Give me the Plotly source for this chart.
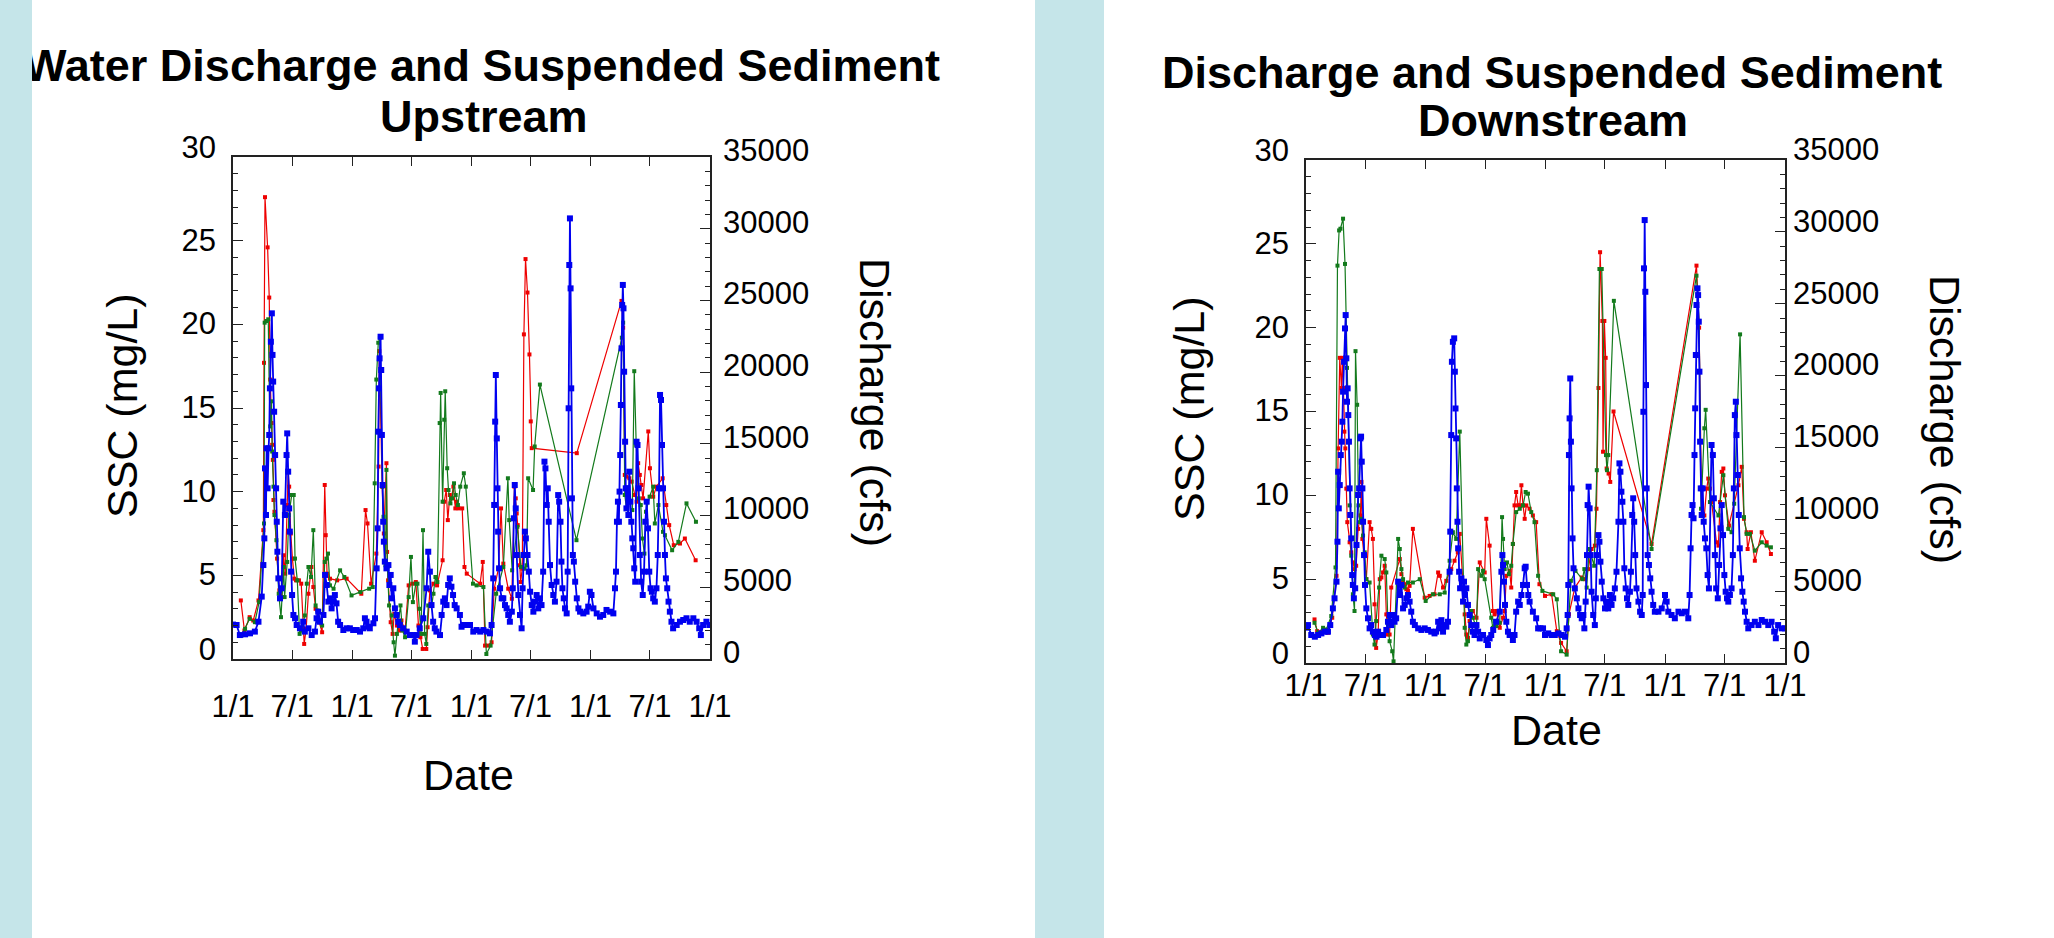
import pandas as pd
import plotly.graph_objects as go

START = pd.Timestamp("2001-01-01")
END = pd.Timestamp("2005-01-01")

# ---------------- Upstream ----------------
up_q_days = [0, 11, 21, 37, 52, 67, 78, 88, 93, 96, 98, 101, 103, 106, 109, 111, 113, 116, 119, 121, 123, 126, 129, 132, 134, 136, 139, 144, 149, 154, 159, 164, 166, 169, 172, 174, 178, 181, 185, 190, 195, 205, 215, 220, 231, 241, 251, 256, 261, 266, 277, 282, 287, 292, 297, 302, 307, 312, 317, 322, 328, 338, 348, 358, 368, 379, 389, 399, 404, 409, 414, 419, 430, 435, 440, 443, 445, 447, 449, 452, 454, 456, 458, 460, 462, 465, 470, 476, 479, 483, 486, 491, 496, 501, 506, 511, 521, 532, 542, 552, 557, 562, 572, 583, 593, 598, 603, 608, 613, 618, 623, 634, 639, 644, 649, 654, 659, 664, 669, 674, 679, 685, 695, 700, 705, 715, 726, 736, 746, 757, 767, 777, 787, 792, 797, 800, 803, 805, 808, 810, 812, 815, 818, 823, 828, 833, 838, 843, 848, 854, 857, 860, 863, 866, 869, 874, 879, 884, 887, 890, 894, 897, 902, 906, 910, 915, 920, 925, 930, 935, 940, 945, 950, 954, 957, 961, 964, 967, 971, 976, 981, 986, 991, 996, 999, 1003, 1006, 1009, 1013, 1017, 1022, 1025, 1028, 1030, 1032, 1034, 1036, 1038, 1041, 1044, 1048, 1053, 1058, 1063, 1073, 1083, 1088, 1093, 1098, 1104, 1114, 1124, 1134, 1144, 1155, 1165, 1170, 1173, 1176, 1179, 1182, 1184, 1186, 1188, 1190, 1192, 1194, 1196, 1198, 1201, 1203, 1205, 1208, 1211, 1214, 1217, 1220, 1223, 1226, 1229, 1232, 1236, 1239, 1242, 1246, 1250, 1255, 1259, 1263, 1267, 1271, 1275, 1279, 1283, 1287, 1292, 1297, 1301, 1305, 1308, 1311, 1314, 1317, 1320, 1323, 1326, 1330, 1334, 1338, 1343, 1348, 1359, 1369, 1379, 1389, 1399, 1410, 1420, 1428, 1433, 1440, 1450, 1459]
up_q_cfs = [2400, 2370, 1670, 1720, 1790, 1910, 2600, 4350, 6550, 8410, 13290, 10040, 14690, 11900, 14690, 15620, 18870, 22120, 24100, 21200, 19340, 17240, 14220, 11900, 9570, 7480, 5620, 4230, 4930, 10970, 10040, 14220, 15730, 13060, 10500, 8880, 6090, 4460, 3070, 2840, 2370, 2140, 2600, 1910, 2140, 1670, 1910, 2840, 3300, 2600, 3070, 5860, 5160, 4000, 4230, 3530, 4000, 4460, 3880, 2600, 2370, 2020, 2140, 2140, 2020, 2020, 1910, 2140, 2840, 2600, 2250, 2140, 2490, 2840, 6320, 9110, 15850, 18870, 20960, 22470, 20150, 15620, 12130, 9570, 8180, 6790, 6320, 6550, 5160, 5860, 4230, 4930, 3530, 3070, 2600, 2370, 2140, 1910, 1670, 1670, 1210, 1670, 2140, 2840, 4930, 7480, 6090, 3760, 2600, 2140, 1910, 1670, 3070, 4000, 4230, 3760, 5160, 5620, 5040, 4460, 3760, 3530, 3070, 2250, 2370, 2370, 2370, 1910, 2020, 1910, 2020, 1910, 1790, 2370, 5620, 10740, 16550, 19800, 15380, 11900, 8880, 6320, 4930, 4230, 4230, 3760, 3530, 3070, 2600, 3300, 4930, 9810, 12130, 10500, 7250, 4460, 3070, 2140, 4930, 7250, 8880, 8410, 7250, 6090, 4690, 3760, 3300, 4000, 4460, 3530, 4230, 3760, 6090, 13760, 13290, 10740, 11900, 9570, 6550, 5160, 4460, 4000, 5390, 11430, 10970, 9570, 6790, 4930, 4230, 3530, 3180, 6090, 17480, 27470, 30720, 25840, 18870, 11200, 7250, 6790, 5390, 4230, 3530, 3300, 3180, 3300, 3650, 4690, 4460, 3530, 3180, 2950, 3070, 3420, 3300, 3180, 4930, 6090, 9570, 10970, 9570, 11670, 14220, 17710, 21660, 24680, 26080, 24450, 20030, 15150, 11900, 10500, 11900, 10040, 13060, 10970, 9570, 8410, 7720, 6320, 5390, 15150, 14920, 11900, 7250, 5390, 4460, 6090, 9570, 10970, 9110, 6090, 4930, 4690, 4230, 4000, 4930, 7250, 11900, 18410, 18060, 14920, 11900, 9570, 7250, 5620, 4930, 4000, 3300, 2600, 2140, 2370, 2600, 2720, 2840, 2600, 2840, 2600, 2140, 1670, 2370, 2600, 2370]

up_red_days = [24, 35, 51, 62, 78, 93, 95, 98, 106, 111, 114, 118, 120, 122, 124, 127, 135, 142, 149, 155, 160, 166, 169, 172, 177, 182, 188, 193, 202, 209, 218, 224, 231, 240, 246, 253, 264, 273, 281, 284, 288, 297, 319, 348, 393, 406, 412, 423, 439, 446, 448, 457, 462, 470, 472, 475, 483, 489, 494, 502, 510, 516, 527, 538, 549, 560, 568, 574, 581, 592, 596, 603, 614, 625, 642, 647, 653, 658, 664, 669, 675, 681, 685, 691, 702, 709, 716, 757, 765, 772, 780, 792, 800, 813, 821, 828, 843, 854, 862, 866, 869, 872, 877, 881, 886, 891, 896, 902, 908, 912, 915, 1053, 1190, 1195, 1200, 1205, 1214, 1221, 1231, 1236, 1241, 1246, 1251, 1256, 1272, 1277, 1287, 1297, 1316, 1327, 1336, 1350, 1369, 1384, 1417]
up_red_ssc = [3.5, 1.7, 2.5, 2.3, 3.5, 7.7, 17.7, 27.6, 24.6, 21.6, 16.7, 14.1, 12.8, 11.9, 9.5, 8.8, 6.0, 4.1, 3.7, 6.2, 5.1, 9.2, 11.2, 10.3, 7.5, 6.0, 4.8, 4.7, 4.7, 4.5, 0.9, 1.8, 3.9, 5.5, 4.3, 3.0, 2.2, 1.6, 10.4, 7.4, 5.1, 4.8, 4.7, 4.8, 3.9, 8.9, 8.1, 4.5, 6.3, 11.5, 18.4, 10.3, 7.5, 11.7, 6.4, 4.7, 2.2, 1.5, 2.7, 2.0, 1.7, 2.3, 1.7, 4.4, 4.5, 4.6, 2.0, 1.3, 0.6, 0.6, 1.9, 4.1, 4.5, 4.4, 5.9, 9.4, 10.1, 8.3, 9.8, 9.6, 10.3, 9.0, 9.4, 9.0, 9.0, 5.5, 5.1, 4.5, 5.8, 0.8, 0.8, 1.0, 4.2, 5.4, 9.0, 5.7, 4.2, 3.6, 10.3, 9.6, 8.7, 8.0, 5.6, 4.6, 5.4, 19.4, 23.9, 21.9, 18.2, 14.2, 12.6, 12.3, 21.4, 19.8, 11.0, 10.9, 10.8, 10.6, 9.8, 9.4, 11.7, 11.0, 10.4, 9.6, 13.6, 11.4, 9.7, 10.3, 10.8, 9.2, 8.0, 6.8, 6.9, 7.2, 5.9]

up_green_days = [26, 37, 51, 67, 80, 95, 97, 102, 108, 111, 114, 118, 120, 124, 127, 133, 140, 147, 155, 158, 166, 171, 180, 186, 190, 197, 204, 210, 220, 226, 231, 239, 246, 253, 259, 273, 281, 286, 291, 297, 308, 328, 341, 363, 390, 417, 428, 434, 439, 445, 450, 458, 461, 467, 470, 473, 478, 486, 492, 496, 502, 507, 513, 519, 527, 538, 545, 551, 560, 565, 571, 576, 582, 587, 592, 598, 609, 614, 620, 626, 633, 636, 642, 647, 650, 656, 660, 666, 671, 677, 682, 689, 696, 707, 713, 735, 746, 767, 776, 789, 806, 828, 842, 846, 855, 871, 882, 893, 899, 904, 919, 924, 940, 1052, 1191, 1195, 1200, 1205, 1214, 1223, 1229, 1235, 1243, 1249, 1254, 1260, 1265, 1276, 1287, 1292, 1303, 1317, 1323, 1345, 1364, 1389, 1418]
up_green_ssc = [1.4, 1.8, 2.4, 2.2, 3.4, 8.1, 20.1, 20.2, 20.3, 16.2, 13.9, 15.4, 12.4, 10.3, 8.6, 7.1, 3.9, 2.5, 5.5, 3.7, 5.8, 8.6, 9.8, 9.8, 6.0, 4.7, 1.5, 1.7, 2.6, 4.5, 5.5, 4.9, 7.7, 3.2, 2.9, 2.0, 5.8, 6.0, 6.3, 4.4, 4.2, 5.3, 4.9, 3.8, 4.0, 4.2, 4.3, 10.5, 16.7, 18.9, 19.2, 10.3, 8.5, 5.6, 11.3, 5.5, 3.2, 2.6, 1.0, 0.2, 1.5, 2.2, 3.2, 1.7, 1.3, 3.7, 6.1, 3.4, 4.5, 4.5, 3.0, 1.5, 7.7, 1.5, 0.9, 3.2, 3.2, 3.9, 4.9, 4.6, 14.1, 15.9, 9.4, 14.3, 16.0, 11.4, 10.1, 9.3, 9.6, 10.5, 9.8, 9.2, 10.3, 11.1, 10.3, 4.5, 4.4, 4.3, 0.3, 0.8, 3.9, 5.5, 10.8, 8.3, 5.3, 7.9, 5.5, 5.4, 5.6, 10.8, 10.1, 12.7, 16.4, 7.1, 19.2, 20.1, 9.8, 9.0, 8.6, 8.9, 17.2, 12.8, 9.6, 9.2, 7.2, 6.3, 8.8, 9.7, 10.3, 8.1, 9.2, 7.6, 7.4, 6.5, 7.0, 9.3, 8.2]

# ---------------- Downstream ----------------
dn_q_days = [0, 6, 16, 27, 37, 47, 57, 67, 74, 82, 87, 93, 96, 98, 100, 103, 106, 109, 111, 113, 116, 119, 121, 123, 125, 127, 129, 131, 133, 135, 138, 141, 143, 146, 150, 154, 159, 162, 166, 168, 170, 172, 174, 177, 180, 184, 189, 194, 199, 204, 210, 215, 220, 225, 235, 245, 250, 255, 260, 265, 270, 275, 281, 286, 291, 296, 301, 306, 311, 316, 321, 326, 332, 342, 352, 362, 372, 382, 392, 397, 403, 408, 413, 418, 423, 428, 433, 438, 440, 443, 445, 448, 452, 454, 456, 458, 460, 462, 464, 467, 470, 474, 479, 482, 485, 489, 494, 499, 504, 509, 514, 520, 525, 530, 540, 550, 555, 560, 565, 571, 580, 591, 596, 599, 601, 604, 607, 611, 616, 621, 631, 636, 641, 647, 652, 657, 662, 667, 670, 674, 678, 682, 692, 702, 708, 715, 723, 729, 739, 749, 759, 770, 780, 790, 795, 798, 800, 802, 804, 806, 808, 810, 813, 816, 820, 826, 831, 836, 841, 846, 849, 853, 857, 859, 862, 865, 868, 871, 876, 881, 884, 887, 892, 895, 898, 902, 907, 912, 917, 922, 927, 932, 937, 942, 947, 953, 956, 959, 962, 965, 968, 971, 975, 979, 983, 988, 991, 995, 998, 1001, 1004, 1008, 1014, 1019, 1024, 1027, 1029, 1031, 1033, 1035, 1037, 1039, 1042, 1046, 1050, 1054, 1059, 1064, 1075, 1085, 1095, 1100, 1105, 1115, 1125, 1136, 1146, 1156, 1166, 1170, 1173, 1176, 1179, 1182, 1185, 1187, 1189, 1191, 1194, 1196, 1198, 1200, 1202, 1204, 1207, 1210, 1213, 1217, 1221, 1225, 1229, 1237, 1241, 1244, 1247, 1251, 1256, 1260, 1264, 1268, 1272, 1276, 1280, 1284, 1288, 1293, 1298, 1302, 1305, 1308, 1311, 1313, 1317, 1320, 1323, 1327, 1331, 1335, 1339, 1344, 1349, 1359, 1369, 1380, 1390, 1400, 1410, 1420, 1428, 1433, 1440, 1451, 1461]
dn_q_cfs = [2460, 2640, 1950, 1830, 1950, 2060, 2180, 2180, 2640, 3800, 4500, 5660, 8440, 13310, 10760, 12380, 14470, 15400, 16790, 18880, 20960, 23280, 24210, 21200, 18180, 19110, 17250, 15400, 12150, 10300, 8670, 6120, 5430, 4500, 5200, 8210, 11690, 12150, 15630, 15750, 14010, 12150, 9830, 7510, 5430, 3800, 3110, 2410, 2640, 2180, 1950, 1830, 2180, 1950, 1950, 2300, 2870, 3340, 2640, 3340, 2870, 3110, 5660, 4730, 5430, 3800, 4040, 4500, 4730, 4270, 3570, 2870, 2640, 2410, 2300, 2410, 2300, 2180, 2060, 2180, 2870, 2410, 2980, 2180, 2640, 2530, 2870, 6350, 9140, 15860, 20960, 22350, 22590, 20270, 17710, 15630, 12150, 9830, 7980, 6350, 5200, 5890, 4270, 5660, 4730, 5200, 4040, 3340, 2640, 2180, 1950, 2640, 2180, 1710, 1950, 1600, 1250, 1710, 1950, 2300, 2870, 3570, 6350, 7510, 6820, 5660, 4040, 2870, 2180, 1950, 1600, 1950, 3570, 4270, 4040, 4730, 5430, 6590, 6700, 5430, 4730, 4270, 3570, 3110, 2410, 2410, 2410, 1950, 2060, 1950, 1950, 2060, 1950, 1830, 2410, 3340, 5430, 14470, 17020, 19800, 15400, 12150, 8670, 6590, 5190, 4500, 3800, 3340, 3110, 3340, 2410, 4270, 7510, 10990, 12270, 10760, 7510, 4960, 3340, 2640, 4500, 7510, 8900, 8440, 7050, 5660, 4500, 3800, 4270, 3800, 4730, 4040, 4500, 5190, 6350, 9830, 13890, 13310, 11920, 11220, 9830, 6590, 5190, 4500, 4040, 4960, 6350, 10300, 11460, 9830, 7510, 5190, 4270, 3570, 3340, 4730, 17480, 27460, 30820, 25830, 19340, 12150, 7510, 6820, 5890, 4960, 4040, 3570, 3570, 3800, 4730, 4270, 3570, 3340, 3110, 3570, 3460, 3570, 3110, 4730, 7980, 10300, 10990, 10070, 14470, 17720, 21430, 24910, 26070, 25600, 23750, 20270, 15400, 12150, 10300, 12150, 9830, 8670, 7980, 6120, 5190, 15170, 14470, 11460, 7510, 5190, 4500, 6820, 9370, 10990, 8900, 6120, 4960, 4500, 4270, 4730, 5190, 7510, 12150, 17250, 18180, 15860, 13080, 10300, 7980, 5890, 4960, 4270, 3570, 2870, 2410, 2640, 2870, 2640, 2990, 2870, 2640, 2870, 2180, 1720, 2640, 2410, 2410]

dn_red_days = [26, 34, 52, 67, 80, 93, 98, 103, 108, 111, 114, 117, 120, 123, 126, 133, 138, 143, 148, 153, 159, 166, 169, 172, 177, 184, 194, 199, 204, 209, 214, 220, 225, 230, 235, 240, 245, 250, 255, 260, 286, 291, 296, 301, 306, 311, 316, 326, 362, 377, 392, 403, 408, 418, 428, 443, 453, 463, 469, 484, 489, 494, 499, 509, 520, 530, 545, 550, 560, 570, 575, 581, 591, 601, 606, 611, 621, 626, 631, 636, 641, 647, 652, 657, 662, 667, 672, 682, 692, 702, 712, 729, 749, 765, 778, 795, 802, 820, 841, 851, 861, 871, 881, 886, 892, 897, 904, 906, 910, 914, 917, 923, 928, 938, 1054, 1191, 1199, 1207, 1215, 1222, 1227, 1232, 1237, 1252, 1258, 1263, 1268, 1273, 1278, 1290, 1319, 1329, 1336, 1344, 1347, 1357, 1369, 1390, 1405, 1418]
dn_red_ssc = [2.6, 1.9, 1.9, 1.8, 2.7, 5.2, 12.8, 18.2, 16.4, 18.2, 16.4, 13.8, 12.8, 10.4, 8.4, 7.2, 6.6, 6.0, 5.6, 5.8, 8.0, 8.8, 10.8, 7.4, 6.4, 5.0, 8.4, 8.0, 7.4, 3.5, 0.9, 1.7, 5.0, 5.1, 5.4, 5.8, 2.9, 1.7, 1.7, 4.5, 6.2, 5.3, 4.8, 4.7, 4.4, 4.3, 4.6, 8.0, 3.9, 4.0, 4.1, 5.4, 5.2, 4.5, 4.9, 5.6, 6.1, 6.6, 7.7, 2.9, 1.7, 1.5, 2.5, 3.1, 2.7, 6.0, 5.4, 8.6, 7.0, 3.1, 2.9, 3.1, 2.1, 2.7, 3.1, 5.2, 5.5, 4.5, 7.1, 9.4, 10.2, 9.4, 9.4, 10.6, 9.4, 8.6, 9.4, 9.2, 8.8, 8.4, 4.7, 4.0, 4.1, 1.9, 1.2, 0.7, 2.9, 4.5, 5.1, 5.0, 5.6, 6.8, 7.0, 9.2, 16.4, 24.5, 20.4, 12.6, 20.4, 18.2, 11.6, 11.3, 10.8, 15.0, 7.1, 23.7, 20.0, 8.9, 8.8, 10.4, 11.0, 10.4, 9.6, 7.2, 7.0, 9.6, 11.4, 11.6, 10.0, 8.2, 10.6, 11.7, 8.6, 7.8, 6.8, 7.8, 6.1, 7.8, 7.2, 6.5]

dn_green_days = [26, 37, 52, 62, 77, 90, 96, 101, 105, 113, 119, 125, 133, 138, 143, 148, 151, 156, 160, 164, 169, 174, 179, 184, 194, 204, 209, 214, 223, 230, 240, 245, 250, 255, 263, 267, 281, 286, 291, 296, 301, 311, 326, 347, 365, 387, 408, 423, 438, 448, 458, 469, 484, 489, 494, 504, 509, 520, 525, 535, 540, 545, 565, 570, 575, 581, 591, 598, 601, 606, 613, 619, 626, 631, 641, 652, 662, 670, 677, 687, 697, 708, 721, 754, 765, 778, 795, 808, 822, 843, 849, 856, 864, 879, 887, 895, 902, 915, 918, 922, 939, 1054, 1191, 1199, 1205, 1215, 1219, 1232, 1258, 1273, 1288, 1298, 1306, 1324, 1336, 1344, 1354, 1369, 1390, 1405, 1418]
dn_green_ssc = [2.4, 1.8, 2.1, 2.0, 2.8, 5.7, 23.7, 25.8, 25.9, 26.5, 23.8, 17.6, 9.4, 6.4, 4.1, 3.1, 18.6, 15.4, 9.4, 8.4, 8.6, 7.6, 6.6, 5.0, 4.8, 1.7, 1.1, 2.5, 4.5, 6.4, 6.2, 5.4, 2.3, 1.3, 0.7, 0.1, 7.4, 6.8, 5.6, 5.0, 4.5, 4.8, 4.8, 5.0, 3.7, 4.1, 4.1, 4.2, 6.1, 7.8, 7.4, 13.8, 2.1, 1.1, 1.3, 3.1, 2.7, 2.1, 5.6, 5.2, 5.5, 5.0, 2.7, 2.1, 2.5, 2.2, 2.4, 8.7, 7.4, 5.6, 6.0, 5.3, 5.8, 7.1, 9.0, 9.2, 9.4, 10.2, 10.1, 9.0, 8.4, 5.2, 4.3, 4.1, 3.8, 0.7, 0.5, 4.9, 5.5, 5.0, 5.6, 4.5, 6.8, 5.8, 11.5, 23.5, 23.5, 12.4, 11.5, 12.4, 21.6, 6.8, 23.1, 20.4, 9.2, 14.0, 15.1, 9.6, 8.8, 11.2, 8.0, 7.8, 9.5, 19.6, 8.7, 7.7, 7.7, 6.7, 7.2, 7.0, 6.9]

# tick labels
ssc_mid_ticks = [5, 10, 15, 20, 25]
ssc_end_ticks = [0, 30]
q_ticks = [0, 5000, 10000, 15000, 20000, 25000, 30000, 35000]

# ---------------- styling ----------------
W, H = 2054, 938
FONT = "Liberation Sans, Arial, sans-serif"
BLUE = "#0000f0"
RED = "#ee0000"
GREEN = "#137a1c"
AXC = "#222222"
STRIP = "#c5e5e9"


def to_dates(days):
    return START + pd.to_timedelta(days, unit="D")


def px(x):
    return x / W


def py(y):
    return 1 - y / H


fig = go.Figure()

panels = [
    dict(q=(up_q_days, up_q_cfs), r=(up_red_days, up_red_ssc), g=(up_green_days, up_green_ssc),
         x="x", y="y", y2="y2", labs=("y5", "y6", "y7")),
    dict(q=(dn_q_days, dn_q_cfs), r=(dn_red_days, dn_red_ssc), g=(dn_green_days, dn_green_ssc),
         x="x2", y="y3", y2="y4", labs=("y8", "y9", "y10")),
]

for p in panels:
    fig.add_trace(go.Scatter(x=to_dates(p["r"][0]), y=p["r"][1], xaxis=p["x"], yaxis=p["y"],
                             mode="lines+markers", line=dict(color=RED, width=1.2),
                             marker=dict(symbol="square", size=4, color=RED), showlegend=False))
    fig.add_trace(go.Scatter(x=to_dates(p["g"][0]), y=p["g"][1], xaxis=p["x"], yaxis=p["y"],
                             mode="lines+markers", line=dict(color=GREEN, width=1.2),
                             marker=dict(symbol="square", size=4, color=GREEN), showlegend=False))
    fig.add_trace(go.Scatter(x=to_dates(p["q"][0]), y=p["q"][1], xaxis=p["x"], yaxis=p["y2"],
                             mode="lines+markers", line=dict(color=BLUE, width=1.8),
                             marker=dict(symbol="square", size=6, color=BLUE), showlegend=False))
    # empty carriers so the label-only axes are drawn
    for ya in p["labs"]:
        fig.add_trace(go.Scatter(x=[START], y=[None], xaxis=p["x"], yaxis=ya, mode="markers",
                                 marker=dict(opacity=0), showlegend=False, hoverinfo="skip"))

tickfont = dict(family=FONT, size=31, color="black")


def xaxis(dom, anchor, standoff):
    return dict(domain=dom, anchor=anchor, type="date", range=[START, END],
                tick0=START, dtick="M6", tickformat="%-m/%-d", automargin=False,
                showline=True, linecolor=AXC, linewidth=1.5, mirror="ticks",
                ticks="inside", ticklen=9, tickwidth=1.3, tickcolor=AXC,
                showgrid=False, zeroline=False, tickfont=tickfont,
                ticklabelstandoff=standoff, fixedrange=True)


def yleft(dom, anchor):
    return dict(domain=dom, anchor=anchor, range=[0, 30], dtick=5, automargin=False,
                showline=True, linecolor=AXC, linewidth=1.5, showticklabels=False,
                ticks="inside", ticklen=10, tickwidth=1.3, tickcolor=AXC,
                minor=dict(dtick=1, ticks="inside", ticklen=5, tickwidth=1, tickcolor=AXC),
                showgrid=False, zeroline=False, fixedrange=True)


def yright(over, anchor):
    return dict(overlaying=over, anchor=anchor, side="right", range=[0, 35000], dtick=5000,
                automargin=False, showticklabels=False,
                showline=True, linecolor=AXC, linewidth=1.5,
                ticks="inside", ticklen=10, tickwidth=1.3, tickcolor=AXC,
                minor=dict(dtick=1000, ticks="inside", ticklen=5, tickwidth=1, tickcolor=AXC),
                showgrid=False, zeroline=False, fixedrange=True)


def ylabels(top, bottom, shift, xpos, side, rng, vals, standoff):
    """Label-only axis, the same scale as the framed one, lifted by `shift` px."""
    return dict(domain=[py(bottom - shift), py(top - shift)], anchor="free", position=px(xpos),
                side=side, range=rng, tickmode="array", tickvals=vals, tickformat="d",
                showline=False, ticks="", showgrid=False, zeroline=False,
                automargin=False, tickfont=tickfont, ticklabelstandoff=standoff,
                fixedrange=True)


# plot frames in pixels: (left, right, top, bottom)
LP = (233, 710, 157, 659)
RP = (1306, 1785, 160, 663)

fig.update_layout(
    template="none",
    width=W, height=H, autosize=False,
    margin=dict(l=0, r=0, t=0, b=0, pad=0, autoexpand=False),
    paper_bgcolor="white", plot_bgcolor="rgba(0,0,0,0)",
    font=dict(family=FONT, color="black"),
    showlegend=False,
    xaxis=xaxis([px(LP[0]), px(LP[1])], "y", 19),
    yaxis=yleft([py(LP[3]), py(LP[2])], "x"),
    yaxis2=yright("y", "x"),
    yaxis5=ylabels(LP[2], LP[3], 1, LP[0], "left", [0, 30], ssc_mid_ticks, 17),
    yaxis6=ylabels(LP[2], LP[3], 10, LP[0], "left", [0, 30], ssc_end_ticks, 17),
    yaxis7=ylabels(LP[2], LP[3], 7, LP[1], "right", [0, 35000], q_ticks, 12),
    xaxis2=xaxis([px(RP[0]), px(RP[1])], "y3", -6),
    yaxis3=yleft([py(RP[3]), py(RP[2])], "x2"),
    yaxis4=yright("y3", "x2"),
    yaxis8=ylabels(RP[2], RP[3], 1, RP[0], "left", [0, 30], ssc_mid_ticks, 17),
    yaxis9=ylabels(RP[2], RP[3], 10, RP[0], "left", [0, 30], ssc_end_ticks, 17),
    yaxis10=ylabels(RP[2], RP[3], 11, RP[1], "right", [0, 35000], q_ticks, 7),
)

shapes = [
    dict(type="rect", xref="paper", yref="paper", x0=0, x1=px(32), y0=0, y1=1,
         fillcolor=STRIP, line=dict(width=0), layer="below"),
    dict(type="rect", xref="paper", yref="paper", x0=px(1035), x1=px(1104), y0=0, y1=1,
         fillcolor=STRIP, line=dict(width=0), layer="below"),
]
fig.update_layout(shapes=shapes)


def ann(text, x, y, size, angle=0, bold=False):
    t = f"<b>{text}</b>" if bold else text
    return dict(text=t, x=px(x), y=py(y), xref="paper", yref="paper",
                xanchor="center", yanchor="middle", showarrow=False, textangle=angle,
                font=dict(family=FONT, size=size, color="black"))


annotations = [
    ann("Water Discharge and Suspended Sediment", 482, 65, 45, bold=True),
    ann("Upstream", 484, 116, 45, bold=True),
    ann("Discharge and Suspended Sediment", 1552, 72, 45, bold=True),
    ann("Downstream", 1553, 121, 45, bold=True),
    ann("SSC (mg/L)", 122, 406, 43, angle=-90),
    ann("Discharge (cfs)", 875, 402, 43, angle=90),
    ann("Date", 468, 775, 43),
    ann("SSC (mg/L)", 1189, 409, 43, angle=-90),
    ann("Discharge (cfs)", 1945, 419, 43, angle=90),
    ann("Date", 1556, 730, 43),
    # left page strip drawn over the title so its first letter is trimmed as in the original
    dict(text=" ", x=0, y=1, xref="paper", yref="paper", xanchor="left", yanchor="top",
         showarrow=False, width=32, height=H, bgcolor=STRIP, borderpad=0, borderwidth=0,
         font=dict(size=2, color=STRIP)),
]
fig.update_layout(annotations=annotations)

fig.write_html(
    "out.html",
    config={"displayModeBar": False, "responsive": False},
    post_script="document.body.style.margin='0px';document.body.style.padding='0px';"
                "document.documentElement.style.overflow='hidden';",
)
